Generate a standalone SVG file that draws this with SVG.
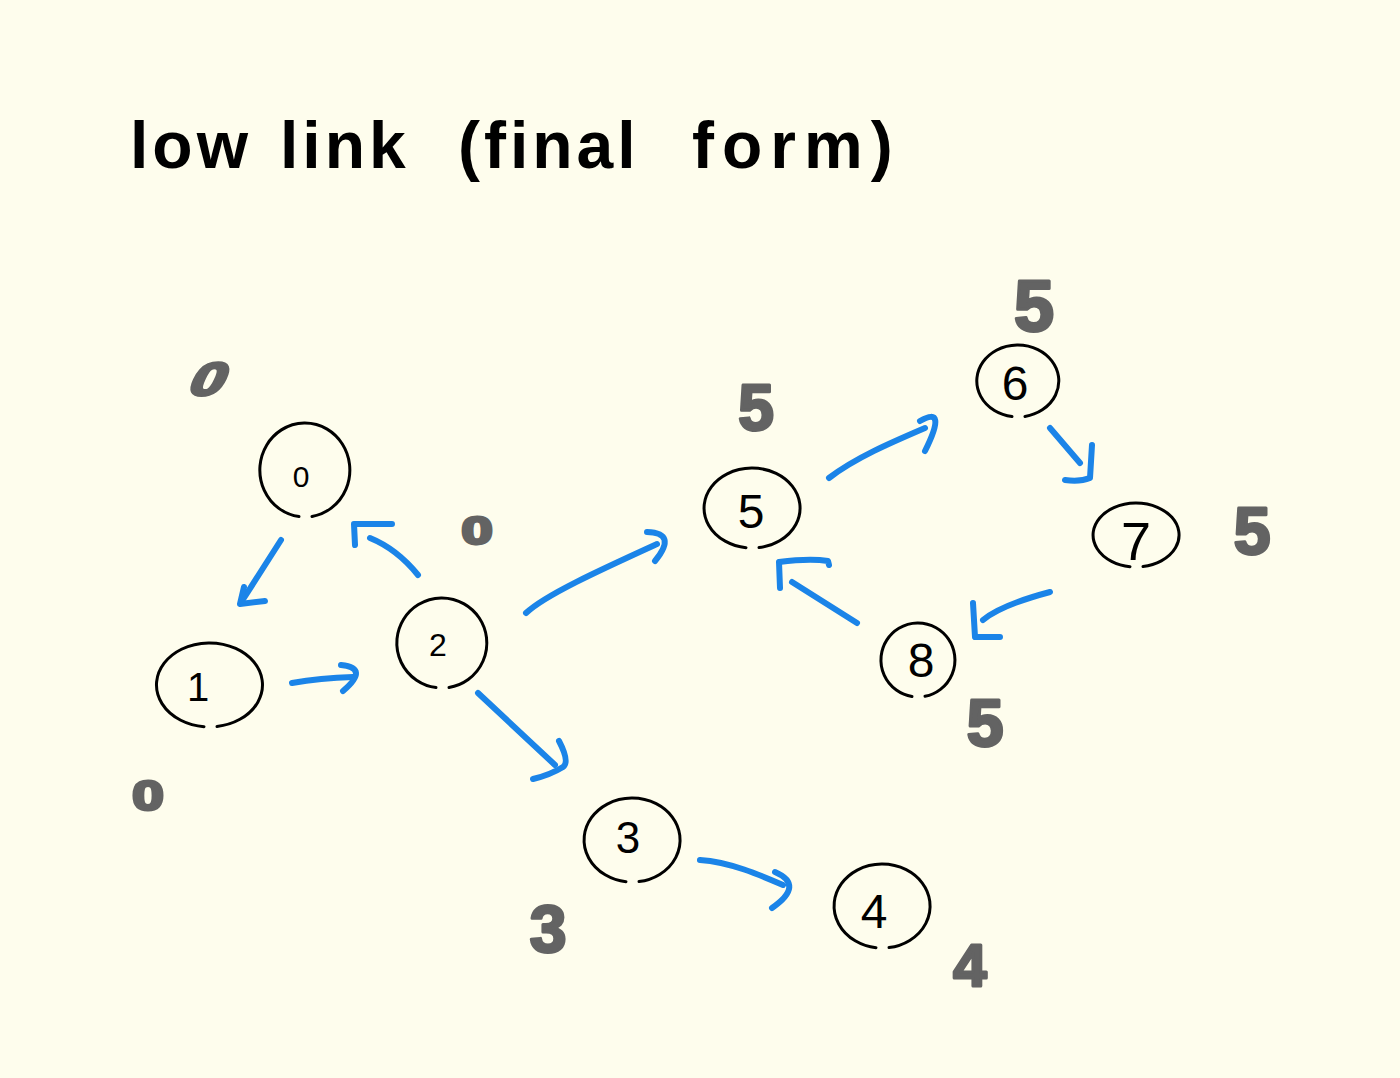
<svg xmlns="http://www.w3.org/2000/svg" width="1400" height="1078" viewBox="0 0 1400 1078">
  <defs>
    <style>
      .bg { fill: #FEFDED; }
      .title { font-family: "Liberation Sans", "DejaVu Sans", sans-serif; font-weight: bold; font-size: 66px; fill: #000; letter-spacing: 4px; }
      .ring { fill: none; stroke: #000; stroke-width: 3; stroke-linecap: round; }
      .num { font-family: "Liberation Sans", "DejaVu Sans", sans-serif; fill: #000; text-anchor: middle; }
      .low { font-family: "Liberation Sans", "DejaVu Sans", sans-serif; font-weight: bold; fill: #636363; stroke: #636363; stroke-width: 3; stroke-linejoin: round; text-anchor: middle; }
      .edge path { fill: none; stroke: #1B84E8; stroke-width: 6; stroke-linecap: round; stroke-linejoin: round; }
    </style>
  </defs>
  <rect class="bg" x="0" y="0" width="1400" height="1078"/>

  <g id="title">
    <text class="title" y="168"><tspan x="130">low</tspan> <tspan x="280">link</tspan> <tspan x="458">(final</tspan> <tspan x="692" letter-spacing="8">form)</tspan></text>
  </g>

  <g id="connectors">
    <g class="edge" id="e0-1"><path d="M281,540 L242,601"/><path d="M244,587 L240,604 L265,601"/></g>
    <g class="edge" id="e2-0"><path d="M418,575 Q397,549 370,538"/><path d="M355,545 L354,524 L392,524"/></g>
    <g class="edge" id="e1-2"><path d="M292,683 Q320,678 353,677"/><path d="M341,665 Q370,668 343,691"/></g>
    <g class="edge" id="e2-5"><path d="M526,613 C545,595 600,570 657,544"/><path d="M647,532 Q678,533 655,561"/></g>
    <g class="edge" id="e2-3"><path d="M478,693 L555,765"/><path d="M559,741 Q570,762 563,767 Q550,775 533,779"/></g>
    <g class="edge" id="e3-4"><path d="M700,860 C730,862 760,875 783,885"/><path d="M775,872 Q805,885 772,908"/></g>
    <g class="edge" id="e5-6"><path d="M829,478 C855,458 890,443 925,428"/><path d="M920,421 Q948,405 925,451"/></g>
    <g class="edge" id="e6-7"><path d="M1050,428 L1080,463"/><path d="M1092,445 L1090,478 Q1080,482 1065,480"/></g>
    <g class="edge" id="e7-8"><path d="M1050,592 C1020,600 995,610 983,620"/><path d="M973,603 L975,637 L1000,637"/></g>
    <g class="edge" id="e8-5"><path d="M857,623 L792,582"/><path d="M780,588 L779,562 Q810,558 828,561 L829,565"/></g>
  </g>

  <g id="node-0">
    <path class="ring" d="M299,516.6 A45,47 0 1 1 312,516.4"/>
    <text class="num" x="301" y="487" font-size="30">0</text>
  </g>
  <g id="node-1">
    <path class="ring" d="M204,726.7 A53,42 0 1 1 217,726.5"/>
    <text class="num" x="198" y="701" font-size="40">1</text>
  </g>
  <g id="node-2">
    <path class="ring" d="M436,687.6 A45,45 0 1 1 449,687.4"/>
    <text class="num" x="438" y="656" font-size="32">2</text>
  </g>
  <g id="node-3">
    <path class="ring" d="M626,881.7 A48,42 0 1 1 639,881.6"/>
    <text class="num" x="628" y="853" font-size="44">3</text>
  </g>
  <g id="node-4">
    <path class="ring" d="M876,947.7 A48,42 0 1 1 889,947.6"/>
    <text class="num" x="874" y="928" font-size="48">4</text>
  </g>
  <g id="node-5">
    <path class="ring" d="M746,547.7 A48,40 0 1 1 759,547.6"/>
    <text class="num" x="751" y="528" font-size="48">5</text>
  </g>
  <g id="node-6">
    <path class="ring" d="M1012,416.6 A41,36 0 1 1 1025,416.4"/>
    <text class="num" x="1015" y="400" font-size="48">6</text>
  </g>
  <g id="node-7">
    <path class="ring" d="M1130,566.7 A43,32 0 1 1 1143,566.6"/>
    <text class="num" x="1136" y="560" font-size="54">7</text>
  </g>
  <g id="node-8">
    <path class="ring" d="M912,696.5 A37,37 0 1 1 925,696.3"/>
    <text class="num" x="921" y="677" font-size="48">8</text>
  </g>

  <g id="lowlink-values">
    <text class="low" font-size="46" transform="translate(210,379) skewX(-25) scale(1.35,1)" x="0" y="16">0</text>
    <text class="low" font-size="40" transform="translate(477,531) scale(1.4,0.95)" x="0" y="14">0</text>
    <text class="low" font-size="42" transform="translate(148,795) scale(1.35,1)" x="0" y="15">0</text>
    <text class="low" font-size="66" x="548" y="952">3</text>
    <text class="low" font-size="60" x="970" y="986">4</text>
    <text class="low" font-size="64" x="756" y="430">5</text>
    <text class="low" font-size="72" x="1034" y="331">5</text>
    <text class="low" font-size="66" x="1252" y="554">5</text>
    <text class="low" font-size="66" x="985" y="746">5</text>
  </g>
</svg>
